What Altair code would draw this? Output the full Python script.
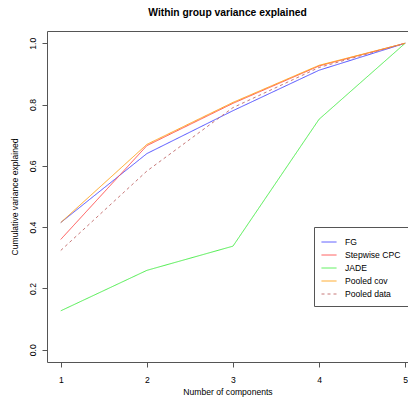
import altair as alt
import pandas as pd

components = [1, 2, 3, 4, 5]
series_names = ["FG", "Stepwise CPC", "JADE", "Pooled cov", "Pooled data"]
fg = [0.415, 0.640, 0.780, 0.912, 1.0]
stepwise = [0.360, 0.666, 0.804, 0.926, 1.0]
jade = [0.127, 0.259, 0.338, 0.752, 1.0]
pooled_cov = [0.415, 0.670, 0.807, 0.928, 1.0]
pooled_data = [0.324, 0.583, 0.790, 0.921, 1.0]

colors = ["#4d4dff", "#ff4d4d", "#4dee4d", "#ffa31a", "#c77878"]
dashes = [[1, 0], [1, 0], [1, 0], [1, 0], [3, 3]]

rows = []
for name, vals in zip(series_names, [fg, stepwise, jade, pooled_cov, pooled_data]):
    for c, v in zip(components, vals):
        rows.append({"series": name, "comp": c, "value": v})
df = pd.DataFrame(rows)

FONT = "Liberation Sans"
FS = 8.6
AX = "#555555"

legend = alt.Legend(
    title=None, orient="none", legendX=267, legendY=196,
    fillColor="white", strokeColor=AX, padding=7,
    labelFontSize=FS, labelFont=FONT, labelColor="#000000",
    symbolType="stroke", symbolSize=225, symbolStrokeWidth=1,
    labelOffset=8, rowPadding=-4.7, labelLimit=200,
)

xscale = alt.Scale(domain=[0.84, 5.033], nice=False, zero=False)
yscale = alt.Scale(domain=[-0.04, 1.04], nice=False, zero=False)

lines = alt.Chart(df).mark_line(strokeWidth=1, clip=True).encode(
    x=alt.X("comp:Q", scale=xscale,
            axis=alt.Axis(values=components, title="Number of components", format="d",
                          orient="bottom", grid=False, domain=True, domainColor=AX,
                          tickSize=5, tickColor=AX,
                          labelFontSize=FS, labelFont=FONT, labelColor="#000000", labelPadding=8,
                          titleFontSize=FS, titleFont=FONT, titleFontWeight="normal",
                          titleColor="#000000", titlePadding=3.5)),
    y=alt.Y("value:Q", scale=yscale,
            axis=alt.Axis(values=[0.0, 0.2, 0.4, 0.6, 0.8, 1.0], format=".1f",
                          title="Cumulative variance explained",
                          grid=False, domain=True, domainColor=AX, tickSize=5, tickColor=AX,
                          labelAngle=270, labelAlign="center", labelBaseline="bottom",
                          labelFontSize=FS, labelFont=FONT, labelColor="#000000", labelPadding=5,
                          titleFontSize=FS, titleFont=FONT, titleFontWeight="normal",
                          titleColor="#000000", titlePadding=9)),
    color=alt.Color("series:N", sort=series_names,
                    scale=alt.Scale(domain=series_names, range=colors), legend=legend),
    strokeDash=alt.StrokeDash("series:N", sort=series_names,
                              scale=alt.Scale(domain=series_names, range=dashes), legend=legend),
    order=alt.Order("comp:Q"),
)

topframe = alt.Chart(df).mark_line(opacity=0).encode(
    x=alt.X("comp:Q", scale=xscale,
            axis=alt.Axis(orient="top", labels=False, ticks=False, title=None, grid=False,
                          domain=True, domainColor=AX)),
    y=alt.Y("value:Q", scale=yscale),
    detail="series:N",
)

chart = alt.layer(lines, topframe).resolve_axis(x="independent").properties(
    width=361, height=331,
    title=alt.Title("Within group variance explained", fontSize=10.3, font=FONT,
                    fontWeight="bold", anchor="middle", offset=13, color="#000000"),
    autosize=alt.AutoSizeParams(type="none"),
    padding={"left": 39, "top": 23, "right": 0, "bottom": 36},
).configure_view(stroke=None)

chart.save("out.html", embed_options={"renderer": "svg", "actions": False})
